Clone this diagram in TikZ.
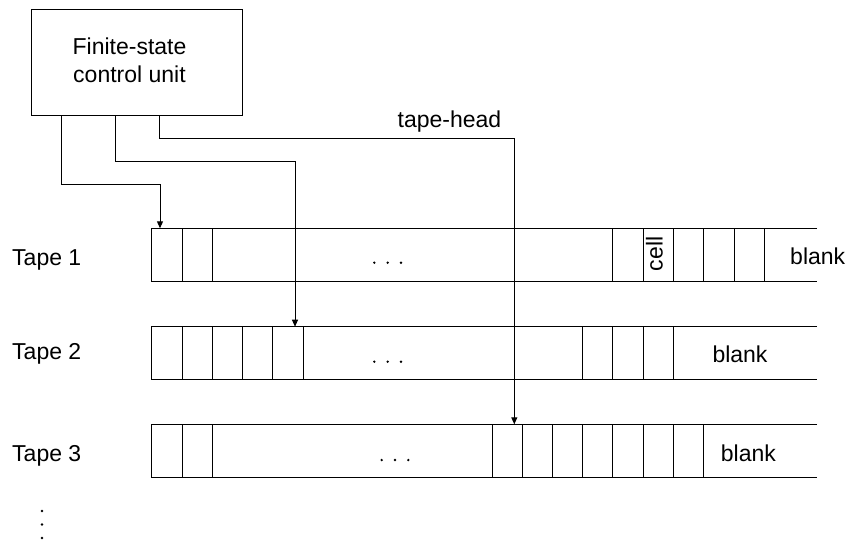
\documentclass[tikz,border=0pt]{standalone}
\usepackage{fontspec}
\setmainfont{Liberation Sans}
\usetikzlibrary{arrows.meta}
\tikzset{
  lbl/.style={inner sep=0pt, font=\fontsize{23}{28}\selectfont},
  tapeline/.style={line width=1pt, draw=black},
  conn/.style={line width=1pt, draw=black, -{Triangle[length=7pt,width=6pt]}},
  dotmark/.style={fill=black, draw=none},
}
\begin{document}
\begin{tikzpicture}[x=1pt,y=-1pt]
\useasboundingbox (0,0) rectangle (850,539);

% control unit
\node[draw, line width=1pt, minimum width=211pt, minimum height=106pt, anchor=north west, inner sep=0pt] (cu) at (31,9) {};
\node[lbl, anchor=base] (cut1) at (129.5,54.3) {Finite-state};
\node[lbl, anchor=base] (cut2) at (129.5,82.7) {control unit};

% tape 1
\draw[tapeline] (817,228.3) -- (151.7,228.3) -- (151.7,281) -- (817,281);
\foreach \x in {182.3,212.3,612.7,643.3,673.3,703.3,734,764}
  \draw[tapeline] (\x,228.3) -- (\x,281);
% tape 2
\draw[tapeline] (817,326.7) -- (151.7,326.7) -- (151.7,379.3) -- (817,379.3);
\foreach \x in {182.3,212.3,242.3,272.7,303,582.3,612.7,643.3,673.3}
  \draw[tapeline] (\x,326.7) -- (\x,379.3);
% tape 3
\draw[tapeline] (817,424.3) -- (151.7,424.3) -- (151.7,477.7) -- (817,477.7);
\foreach \x in {182.3,212.3,492,522.3,552.3,582.3,612.7,643.3,673.3,703.3}
  \draw[tapeline] (\x,424.3) -- (\x,477.7);

% head targets
\coordinate (h1) at (160,228.3);
\coordinate (h2) at (295,326.7);
\coordinate (h3) at (514.3,424.3);

% connectors
\draw[conn] ([xshift=30pt]cu.south west) -- ++(0,68) -| (h1);
\draw[conn] ([xshift=84pt]cu.south west) -- ++(0,45.7) -| (h2);
\draw[conn] ([xshift=128pt]cu.south west) -- ++(0,22.3) -| (h3);
\node[lbl, anchor=base] (th) at (449.5,127) {tape-head};

% labels
\node[lbl, anchor=base west] (t1) at (12,265) {Tape 1};
\node[lbl, anchor=base west] (t2) at (12,359.3) {Tape 2};
\node[lbl, anchor=base west] (t3) at (12,461.5) {Tape 3};
\node[lbl, anchor=base west] (b1) at (790,264.3) {blank};
\node[lbl, anchor=base west] (b2) at (712.3,362.7) {blank};
\node[lbl, anchor=base west] (b3) at (720.7,461.7) {blank};
\node[lbl, anchor=base, rotate=90] (cell) at (662.5,254) {cell};

% ellipses
\foreach \x in {374.3,387.7,401} \fill[dotmark] (\x,262.7) circle (1.3);
\foreach \x in {374.3,387.7,401} \fill[dotmark] (\x,361.7) circle (1.3);
\foreach \x in {381.7,395,408.3} \fill[dotmark] (\x,460) circle (1.3);
\foreach \y in {511,524.5,538} \fill[dotmark] (42,\y) circle (1.3);
\end{tikzpicture}
\end{document}
